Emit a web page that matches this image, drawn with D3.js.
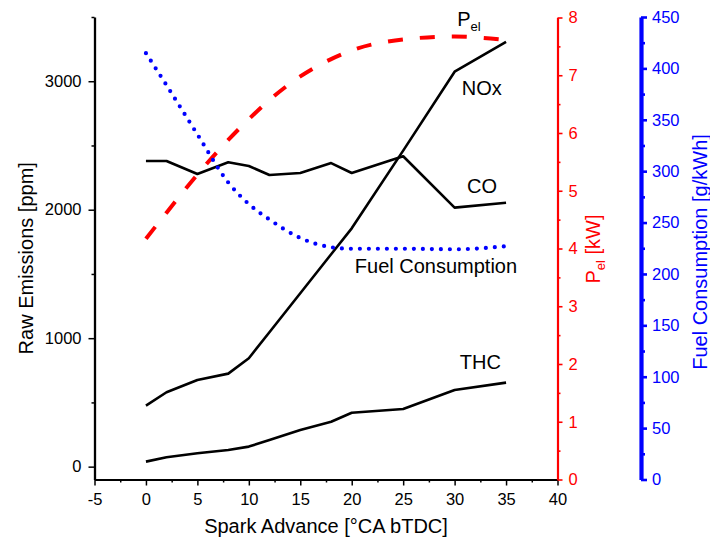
<!DOCTYPE html>
<html>
<head>
<meta charset="utf-8">
<script src="https://cdn.jsdelivr.net/npm/d3@7"></script>
<style>
  html, body { margin: 0; padding: 0; background: #fff; }
  svg { display: block; font-family: "Liberation Sans", Arial, sans-serif; }
</style>
</head>
<body>
<svg id="chart" width="710" height="540"></svg>
<script>
// Spark advance sweep [°CA bTDC]
const sparkAdvance = [0, 2, 5, 8, 10, 12, 15, 18, 20, 25, 30, 35];

// Raw emissions [ppm]
const noxPpm = [475, 579, 675, 724, 844, 1046, 1350, 1653, 1855, 2460, 3074, 3307];
const coPpm  = [2379, 2379, 2278, 2369, 2340, 2270, 2286, 2363, 2286, 2416, 2016, 2054];
const thcPpm = [39, 73, 104, 130, 156, 208, 286, 350, 420, 449, 597, 654];

// Electrical power [kW]
const pelKw = [4.17, 4.62, 5.28, 5.88, 6.24, 6.57, 6.98, 7.28, 7.43, 7.62, 7.67, 7.61];

// Specific fuel consumption [g/kWh]
const fuelGkWh = [414.8, 383.6, 335.8, 289, 268, 253, 235, 226, 224.5, 224.5, 224, 227];

// Axis ticks
const xMajorTicks = [-5, 0, 5, 10, 15, 20, 25, 30, 35, 40];
const xMinorTicks = [-2.5, 2.5, 7.5, 12.5, 17.5, 22.5, 27.5, 32.5, 37.5];
const emisMajorTicks = [0, 1000, 2000, 3000];
const emisMinorTicks = [500, 1500, 2500, 3500];
const pelMajorTicks = [0, 1, 2, 3, 4, 5, 6, 7, 8];
const pelMinorTicks = [0.5, 1.5, 2.5, 3.5, 4.5, 5.5, 6.5, 7.5];
const fuelMajorTicks = [0, 50, 100, 150, 200, 250, 300, 350, 400, 450];
const fuelMinorTicks = [25, 75, 125, 175, 225, 275, 325, 375, 425];

const svg = d3.select("#chart");
const TICK_FONT = 16.5, TITLE_FONT = 20;
const RED = "#ff0000", BLUE = "#0000ff";
const plain = d => String(d);

const x = d3.scaleLinear().domain([-5, 40]).range([94.5, 557.5]);
const yEmis = d3.scaleLinear().domain([-100, 3500]).range([479.5, 17]);
const yPel = d3.scaleLinear().domain([0, 8]).range([479.5, 17.5]);
const yFuel = d3.scaleLinear().domain([0, 450]).range([479.5, 17]);

const X_RED = x(40);
const X_BLUE = 641;

function styleAxis(g, color, domainWidth, tickWidth) {
  g.selectAll("path.domain").attr("stroke", color).attr("stroke-width", domainWidth);
  g.selectAll(".tick line").attr("stroke", color).attr("stroke-width", tickWidth);
  g.selectAll(".tick text").attr("fill", color).style("font-size", TICK_FONT + "px")
    .style("font-family", '"Liberation Sans", Arial, sans-serif');
}

// ---- bottom axis ----
const gx = svg.append("g").attr("transform", `translate(0,${yEmis.range()[0]})`)
  .call(d3.axisBottom(x).tickValues(xMajorTicks).tickFormat(plain)
    .tickSize(6).tickSizeOuter(0).tickPadding(8));
styleAxis(gx, "#000", 2, 1.5);
svg.append("g").attr("transform", `translate(0,${yEmis.range()[0]})`)
  .call(d3.axisBottom(x).tickValues(xMinorTicks).tickSize(3).tickFormat(""))
  .call(g => g.select("path.domain").remove())
  .selectAll(".tick line").attr("stroke", "#000").attr("stroke-width", 1.5);

// ---- left axis (raw emissions) ----
const gy = svg.append("g").attr("transform", `translate(${x(-5)},0)`)
  .call(d3.axisLeft(yEmis).tickValues(emisMajorTicks).tickFormat(plain)
    .tickSize(6).tickSizeOuter(0).tickPadding(7));
styleAxis(gy, "#000", 2.3, 1.5);
svg.append("g").attr("transform", `translate(${x(-5)},0)`)
  .call(d3.axisLeft(yEmis).tickValues(emisMinorTicks).tickSize(3).tickFormat(""))
  .call(g => g.select("path.domain").remove())
  .selectAll(".tick line").attr("stroke", "#000").attr("stroke-width", 1.5);

// ---- red axis (electrical power) ----
const gp = svg.append("g").attr("transform", `translate(${X_RED},0)`)
  .call(d3.axisRight(yPel).tickValues(pelMajorTicks).tickFormat(plain)
    .tickSize(5).tickSizeOuter(0).tickPadding(6));
styleAxis(gp, RED, 2.2, 1.6);
svg.append("g").attr("transform", `translate(${X_RED},0)`)
  .call(d3.axisRight(yPel).tickValues(pelMinorTicks).tickSize(3).tickFormat(""))
  .call(g => g.select("path.domain").remove())
  .selectAll(".tick line").attr("stroke", RED).attr("stroke-width", 1.6);

// ---- blue axis (fuel consumption) ----
const gf = svg.append("g").attr("transform", `translate(${X_BLUE},0)`)
  .call(d3.axisRight(yFuel).tickValues(fuelMajorTicks).tickFormat(plain)
    .tickSize(6).tickSizeOuter(0).tickPadding(5));
styleAxis(gf, BLUE, 4.2, 2.6);
svg.append("g").attr("transform", `translate(${X_BLUE},0)`)
  .call(d3.axisRight(yFuel).tickValues(fuelMinorTicks).tickSize(4).tickFormat(""))
  .call(g => g.select("path.domain").remove())
  .selectAll(".tick line").attr("stroke", BLUE).attr("stroke-width", 2.6);

// ---- axis titles ----
svg.append("text")
  .attr("x", (x(-5) + x(40)) / 2).attr("y", 533)
  .attr("text-anchor", "middle").style("font-size", TITLE_FONT + "px")
  .text("Spark Advance [°CA bTDC]");

svg.append("text")
  .attr("transform", `translate(33,${(yEmis.range()[0] + yEmis.range()[1]) / 2 + 10}) rotate(-90)`)
  .attr("text-anchor", "middle").style("font-size", TITLE_FONT + "px")
  .text("Raw Emissions [ppm]");

const pelTitle = svg.append("text")
  .attr("transform", `translate(600,249) rotate(-90)`)
  .attr("text-anchor", "middle").attr("fill", RED).style("font-size", TITLE_FONT + "px");
pelTitle.append("tspan").text("P");
pelTitle.append("tspan").attr("dy", 5).style("font-size", "13px").text("el");
pelTitle.append("tspan").attr("dy", -5).text(" [kW]");

svg.append("text")
  .attr("transform", `translate(707,252) rotate(-90)`)
  .attr("text-anchor", "middle").attr("fill", BLUE).style("font-size", TITLE_FONT + "px")
  .text("Fuel Consumption [g/kWh]");

// ---- series ----
const lineOf = (ys, yScale, curve) => d3.line()
  .x((d, i) => x(sparkAdvance[i]))
  .y(d => yScale(d))
  .curve(curve || d3.curveLinear)(ys);

[noxPpm, coPpm, thcPpm].forEach(series => {
  svg.append("path").attr("d", lineOf(series, yEmis))
    .attr("fill", "none").attr("stroke", "#000").attr("stroke-width", 2.6)
    .attr("stroke-linejoin", "round");
});

svg.append("path").attr("d", lineOf(pelKw, yPel, d3.curveMonotoneX))
  .attr("fill", "none").attr("stroke", RED).attr("stroke-width", 4)
  .attr("stroke-dasharray", "15,17");

svg.append("path").attr("d", lineOf(fuelGkWh, yFuel, d3.curveMonotoneX))
  .attr("fill", "none").attr("stroke", BLUE).attr("stroke-width", 4.2)
  .attr("stroke-linecap", "round").attr("stroke-dasharray", "0,9");

// ---- series labels ----
const lbl = (xv, yScale, yv, txt) => svg.append("text")
  .attr("x", x(xv)).attr("y", yScale(yv))
  .style("font-size", TITLE_FONT + "px").text(txt);

const pelLabel = svg.append("text").attr("x", x(30.25)).attr("y", yPel(7.86))
  .style("font-size", TITLE_FONT + "px");
pelLabel.append("tspan").text("P");
pelLabel.append("tspan").attr("dy", 5).style("font-size", "13px").text("el");

lbl(30.7, yEmis, 2893, "NOx");
lbl(31.2, yEmis, 2128, "CO");
lbl(20.3, yEmis, 1505, "Fuel Consumption");
lbl(30.5, yEmis, 758, "THC");
</script>
</body>
</html>
